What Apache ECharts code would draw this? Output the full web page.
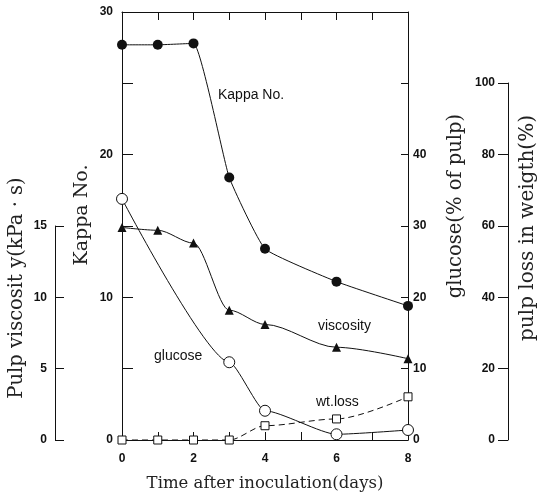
<!DOCTYPE html>
<html><head><meta charset="utf-8">
<script src="https://cdn.jsdelivr.net/npm/echarts@6/dist/echarts.min.js"></script>
<style>html,body{margin:0;padding:0;background:#fff}#c{width:538px;height:499px}</style>
</head><body><div id="c"></div>
<script>
// ---- data ----
const kappaDays = [0, 1, 2, 3, 4, 6, 8];
const kappa = [27.7, 27.7, 27.8, 18.4, 13.4, 11.1, 9.4];
const viscDays = [0, 1, 2, 3, 4, 6, 8];
const viscosity = [14.9, 14.7, 13.8, 9.1, 8.1, 6.5, 5.7];
const glucoseDays = [0, 3, 4, 6, 8];
const glucose = [33.8, 10.9, 4.1, 0.8, 1.4];
const lossDays = [0, 1, 2, 3, 4, 6, 8];
const wtLoss = [0, 0, 0, 0, 4.0, 5.9, 12.1];
const xLabels = ['0', '2', '4', '6', '8'];
const kappaLabels = ['0', '10', '20', '30'];
const glucoseLabels = ['0', '10', '20', '30', '40'];

const pair = (xs, ys) => xs.map((x, i) => [x, ys[i]]);
const tickFont = { fontFamily: '"Liberation Sans Narrow","Liberation Sans",Arial,sans-serif', fontWeight: 'bold', fontSize: 12, color: '#111' };
const serif = '"DejaVu Serif","Liberation Serif",serif';
const axLine = { show: true, onZero: false, lineStyle: { color: '#111', width: 1 } };

const chart = echarts.init(document.getElementById('c'), null, { renderer: 'canvas' });
const option = {
  backgroundColor: '#fff',
  animation: false,
  grid: [
    { left: 122, right: 130, top: 12, bottom: 59 },
    { left: 122, right: 130, top: 226, bottom: 59 },
    { left: 122, right: 130, top: 83, bottom: 59 }
  ],
  xAxis: [
    { gridIndex: 0, type: 'value', min: 0, max: 8, interval: 1, position: 'bottom',
      axisLine: axLine, splitLine: { show: false },
      axisTick: { inside: true, length: 8, lineStyle: { color: '#111' } },
      axisLabel: Object.assign({ margin: 13, formatter: v => xLabels.includes(String(v)) ? String(v) : '' }, tickFont),
      name: 'Time after inoculation(days)', nameLocation: 'middle', nameGap: 35,
      nameTextStyle: { fontFamily: serif, fontSize: 16.5, color: '#222' } },
    { gridIndex: 0, type: 'value', min: 0, max: 8, interval: 1, position: 'top',
      axisLine: axLine, splitLine: { show: false },
      axisTick: { inside: true, length: 8, lineStyle: { color: '#111' } },
      axisLabel: { show: false } },
    { gridIndex: 1, type: 'value', min: 0, max: 8, show: false },
    { gridIndex: 2, type: 'value', min: 0, max: 8, show: false }
  ],
  yAxis: [
    { gridIndex: 0, type: 'value', min: 0, max: 30, interval: 5, position: 'left',
      axisLine: axLine, splitLine: { show: false },
      axisTick: { show: true, inside: true, length: 11, lineStyle: { color: '#111' } },
      axisLabel: Object.assign({ margin: 9, formatter: v => kappaLabels.includes(String(v)) ? String(v) : '' }, tickFont) },
    { gridIndex: 0, type: 'value', min: 0, max: 60, interval: 10, position: 'right',
      axisLine: axLine, splitLine: { show: false },
      axisTick: { show: true, inside: true, length: 7, lineStyle: { color: '#111' } },
      axisLabel: Object.assign({ margin: 5, formatter: v => glucoseLabels.includes(String(v)) ? String(v) : '' }, tickFont) },
    { gridIndex: 1, type: 'value', min: 0, max: 15, interval: 5, position: 'left', offset: 67,
      axisLine: axLine, splitLine: { show: false },
      axisTick: { show: true, inside: true, length: 9, lineStyle: { color: '#111' } },
      axisLabel: Object.assign({ margin: 8 }, tickFont) },
    { gridIndex: 2, type: 'value', min: 0, max: 100, interval: 20, position: 'right', offset: 100,
      axisLine: axLine, splitLine: { show: false },
      axisTick: { show: true, inside: true, length: 10, lineStyle: { color: '#111' } },
      axisLabel: Object.assign({ inside: true, margin: 13 }, tickFont) }
  ],
  series: [
    { name: 'Kappa No.', type: 'line', xAxisIndex: 0, yAxisIndex: 0, data: pair(kappaDays, kappa),
      smooth: 0.12, clip: false, z: 5,
      symbol: 'circle', symbolSize: 10, itemStyle: { color: '#111' }, lineStyle: { color: '#111', width: 1 } },
    { name: 'viscosity', type: 'line', xAxisIndex: 2, yAxisIndex: 2, data: pair(viscDays, viscosity),
      smooth: 0.3, smoothMonotone: 'x', clip: false, z: 5,
      symbol: 'triangle', symbolSize: 9, itemStyle: { color: '#111' }, lineStyle: { color: '#111', width: 1 } },
    { name: 'glucose', type: 'line', xAxisIndex: 0, yAxisIndex: 1, data: pair(glucoseDays, glucose),
      smooth: 0.2, smoothMonotone: 'x', clip: false, z: 6,
      symbol: 'circle', symbolSize: 11, itemStyle: { color: '#fff', borderColor: '#111', borderWidth: 1 },
      lineStyle: { color: '#111', width: 1 } },
    { name: 'wt.loss', type: 'line', xAxisIndex: 3, yAxisIndex: 3, data: pair(lossDays, wtLoss),
      smooth: 0.3, smoothMonotone: 'x', clip: false, z: 6,
      symbol: 'rect', symbolSize: 8, itemStyle: { color: '#fff', borderColor: '#111', borderWidth: 1 },
      lineStyle: { color: '#111', width: 1, type: [6, 4] } }
  ],
  graphic: [
    { type: 'text', x: 82, y: 215, rotation: Math.PI / 2, style: { text: 'Kappa No.', font: '19px ' + serif, fill: '#222', align: 'center', verticalAlign: 'middle' } },
    { type: 'text', x: 17, y: 288, rotation: Math.PI / 2, style: { text: 'Pulp viscosit y(kPa · s)', font: '19.5px ' + serif, fill: '#222', align: 'center', verticalAlign: 'middle' } },
    { type: 'text', x: 456, y: 206, rotation: Math.PI / 2, style: { text: 'glucose(% of pulp)', font: '19.5px ' + serif, fill: '#222', align: 'center', verticalAlign: 'middle' } },
    { type: 'text', x: 528, y: 228, rotation: Math.PI / 2, style: { text: 'pulp loss in weigth(%)', font: '20px ' + serif, fill: '#222', align: 'center', verticalAlign: 'middle' } },
    { type: 'text', x: 218, y: 95, style: { text: 'Kappa No.', font: '14px "Liberation Sans",Arial,sans-serif', fill: '#111', verticalAlign: 'middle' } },
    { type: 'text', x: 318, y: 326, style: { text: 'viscosity', font: '14px "Liberation Sans",Arial,sans-serif', fill: '#111', verticalAlign: 'middle' } },
    { type: 'text', x: 154, y: 356, style: { text: 'glucose', font: '14px "Liberation Sans",Arial,sans-serif', fill: '#111', verticalAlign: 'middle' } },
    { type: 'text', x: 316, y: 402, style: { text: 'wt.loss', font: '14px "Liberation Sans",Arial,sans-serif', fill: '#111', verticalAlign: 'middle' } }
  ]
};
chart.setOption(option);
</script></body></html>
